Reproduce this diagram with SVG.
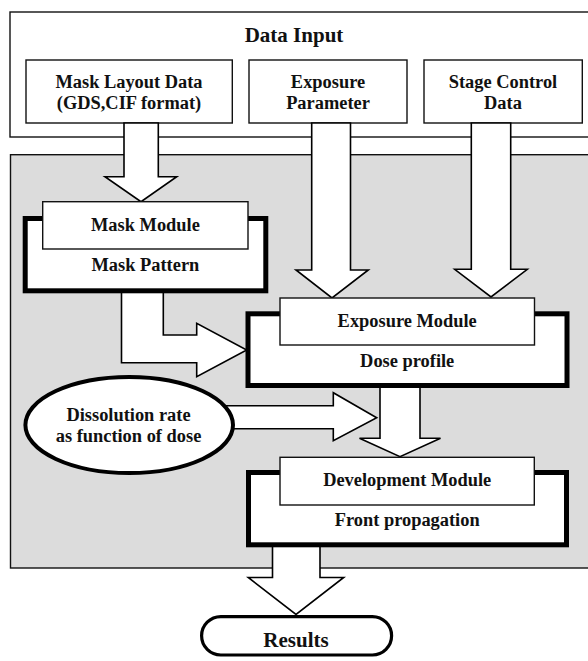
<svg xmlns="http://www.w3.org/2000/svg" width="588" height="661" viewBox="0 0 588 661">
  <style>
    .box { fill: #ffffff; stroke: #111111; stroke-width: 1.4; }
    .panel { fill: #dcdcdc; stroke: #111111; stroke-width: 1.4; }
    .frame { fill: #ffffff; stroke: #000000; stroke-width: 5; }
    .arrow { fill: #ffffff; stroke: #000000; stroke-width: 1.6; stroke-linejoin: miter; }
    .oval { fill: #ffffff; stroke: #000000; stroke-width: 4; }
    .term { fill: #ffffff; stroke: #000000; stroke-width: 3.2; }
    text { font-family: "Liberation Serif", "Times New Roman", serif; font-weight: bold; fill: #111111; text-anchor: middle; }
    .t { font-size: 18.4px; }
    .big { font-size: 21px; }
  </style>

  <!-- input block -->
  <g id="data-input">
    <rect class="box" x="10" y="12" width="600" height="125"/>
    <text class="big" x="294" y="42.3">Data Input</text>
  </g>
  <g id="mask-layout-data">
    <rect class="box" x="26" y="60" width="206.3" height="63"/>
    <text class="t" x="129" y="88">Mask Layout Data</text>
    <text class="t" x="129" y="109.3">(GDS,CIF format)</text>
  </g>
  <g id="exposure-parameter">
    <rect class="box" x="249" y="60" width="158" height="63"/>
    <text class="t" x="328" y="87.5">Exposure</text>
    <text class="t" x="328" y="109.3">Parameter</text>
  </g>
  <g id="stage-control-data">
    <rect class="box" x="424" y="60" width="158.3" height="63"/>
    <text class="t" x="503" y="87.5">Stage Control</text>
    <text class="t" x="503" y="109.3">Data</text>
  </g>

  <!-- simulator panel -->
  <g id="simulator">
    <rect class="panel" x="10.5" y="154.7" width="600" height="413.3"/>
  </g>

  <!-- block arrows -->
  <g id="connectors">
    <polygon class="arrow" points="124,123 158.3,123 158.3,176.7 176.7,176.7 141,201.7 105,176.7 124,176.7"/>
    <polygon class="arrow" points="311.7,123 350.5,123 350.5,270 368.3,270 332,298 296,270 311.7,270"/>
    <polygon class="arrow" points="471.3,123 510.7,123 510.7,269.3 527.3,269.3 491,297 454.7,269.3 471.3,269.3"/>
    <polygon class="arrow" points="121.5,290 121.5,362.7 196.7,362.7 196.7,376.7 246.7,350 196.7,323.3 196.7,335 163.3,335 163.3,290"/>
    <polygon class="arrow" points="380,385 420,385 420,438.3 440.5,438.3 400,456.7 359.5,438.3 380,438.3"/>
    <polygon class="arrow" points="225,405.8 333.3,405.8 333.3,392.7 376.7,417.7 333.3,440.7 333.3,428.8 225,428.8"/>
    <polygon class="arrow" points="272.5,545 320,545 320,577.5 343.7,577.5 296,614.5 248.3,577.5 272.5,577.5"/>
  </g>

  <g id="mask-module">
    <rect class="frame" x="25.2" y="218.5" width="240.6" height="72.3"/>
    <rect class="box" x="42.7" y="201.7" width="205.3" height="47.3"/>
    <text class="t" x="145.4" y="231">Mask Module</text>
    <text class="t" x="145.4" y="270.5">Mask Pattern</text>
  </g>

  <g id="exposure-module">
    <rect class="frame" x="248" y="313.8" width="319" height="71.7"/>
    <rect class="box" x="280" y="298" width="254.5" height="47"/>
    <text class="t" x="407.2" y="326.7">Exposure Module</text>
    <text class="t" x="407.2" y="366.5">Dose profile</text>
  </g>

  <g id="dissolution-rate">
    <ellipse class="oval" cx="129.2" cy="425" rx="103.8" ry="48"/>
    <text class="t" x="128.5" y="421">Dissolution rate</text>
    <text class="t" x="128.5" y="441.7">as function of dose</text>
  </g>

  <g id="development-module">
    <rect class="frame" x="248.5" y="472.5" width="318" height="72.3"/>
    <rect class="box" x="280" y="457.3" width="254.3" height="47.7"/>
    <text class="t" x="407.2" y="485.5">Development Module</text>
    <text class="t" x="407.2" y="526">Front propagation</text>
  </g>

  <g id="results">
    <rect class="term" x="201.6" y="616.6" width="190" height="38.4" rx="19.2" ry="19.2"/>
    <text class="big" x="296" y="646.7">Results</text>
  </g>
</svg>
